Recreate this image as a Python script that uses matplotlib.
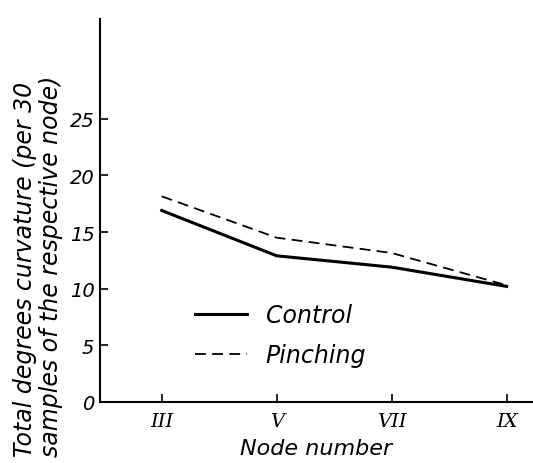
import matplotlib
matplotlib.use("Agg")
import matplotlib.pyplot as plt

# datos
nodos = ["III", "V", "VII", "IX"]
control = [16.9, 12.9, 11.9, 10.2]
pinching = [18.15, 14.5, 13.15, 10.3]
yticks = [0, 5, 10, 15, 20, 25]

plt.rcParams['font.family'] = ['DejaVu Sans']
fig = plt.figure(figsize=(5.33, 4.64), dpi=100)
ax = fig.add_axes([0.1876, 0.1315, 0.8124, 0.8254])

x = range(len(nodos))
ax.plot(x, control, color='black', lw=2.2, label='Control')
ax.plot(x, pinching, color='black', lw=1.3, ls=(0, (6, 3.5)), label='Pinching')

ax.set_xlim(-0.537, 3.229)
ax.set_ylim(0, 33.8)
ax.set_xticks(list(x))
ax.set_xticklabels(nodos, fontstyle='italic', fontsize=14, family='serif')
ax.set_yticks(yticks)
ax.set_yticklabels([str(v) for v in yticks], fontstyle='italic', fontsize=14)
ax.tick_params(direction='in', length=6, width=1.2, pad=4)
ax.tick_params(axis='x', pad=7)
for s in ['top', 'right']:
    ax.spines[s].set_visible(False)
for s in ['left', 'bottom']:
    ax.spines[s].set_linewidth(1.5)

ax.set_xlabel('Node number', fontstyle='italic', fontsize=16, labelpad=6)

fig.text(0.046, 0.015, 'Total degrees curvature (per 30', rotation=90,
         ha='center', va='bottom', fontstyle='italic', fontsize=17)
fig.text(0.095, 0.015, 'samples of the respective node)', rotation=90,
         ha='center', va='bottom', fontstyle='italic', fontsize=17)

ax.legend(loc='lower left', bbox_to_anchor=(0.17, 0.035), frameon=False,
          handlelength=2.2, handletextpad=0.8,
          prop={'style': 'italic', 'size': 17}, labelspacing=0.7)

fig.savefig('out.png', dpi=100)
